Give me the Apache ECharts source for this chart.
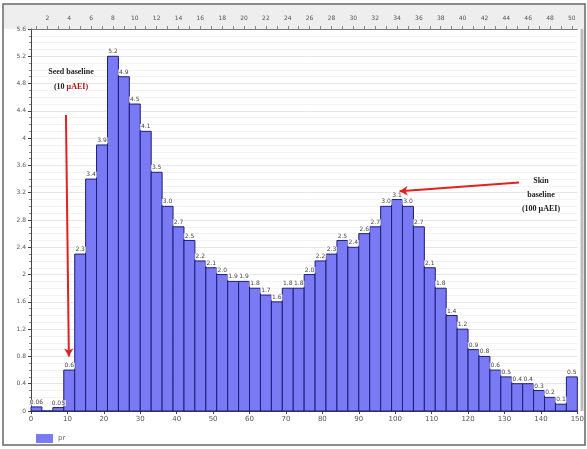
<!DOCTYPE html>
<html>
<head>
<meta charset="utf-8">
<script src="https://cdn.jsdelivr.net/npm/echarts@6/dist/echarts.min.js"></script>
<style>
  html, body { margin: 0; padding: 0; background: #fff; }
  #chart { width: 587px; height: 449px; }
</style>
</head>
<body>
<div id="chart"></div>
<script>
// Histogram bins: left edge of each bin (width 3) and its frequency
const binStarts = [0, 3, 6, 9, 12, 15, 18, 21, 24, 27, 30, 33, 36, 39, 42, 45, 48, 51, 54, 57,
  60, 63, 66, 69, 72, 75, 78, 81, 84, 87, 90, 93, 96, 99, 102, 105, 108, 111, 114, 117,
  120, 123, 126, 129, 132, 135, 138, 141, 144, 147];
const binWidth = 3;
const frequencies = [0.06, 0, 0.05, 0.6, 2.3, 3.4, 3.9, 5.2, 4.9, 4.5,
  4.1, 3.5, 3.0, 2.7, 2.5, 2.2, 2.1, 2.0, 1.9, 1.9,
  1.8, 1.7, 1.6, 1.8, 1.8, 2.0, 2.2, 2.3, 2.5, 2.4,
  2.6, 2.7, 3.0, 3.1, 3.0, 2.7, 2.1, 1.8, 1.4, 1.2,
  0.9, 0.8, 0.6, 0.5, 0.4, 0.4, 0.3, 0.2, 0.1, 0.5];
const binNumbers = ['1', '2', '3', '4', '5', '6', '7', '8', '9', '10', '11', '12', '13', '14', '15',
  '16', '17', '18', '19', '20', '21', '22', '23', '24', '25', '26', '27', '28', '29', '30',
  '31', '32', '33', '34', '35', '36', '37', '38', '39', '40', '41', '42', '43', '44', '45',
  '46', '47', '48', '49', '50'];
const seriesName = 'pr';

// Baseline call-outs (data coordinates of arrow tail and head)
const seedArrow = { from: [9.6, 4.34], to: [10.4, 0.8] };
const skinArrow = { from: [134, 3.35], to: [101.2, 3.22] };

const barData = binStarts.map((s, i) => [s, s + binWidth, frequencies[i]]);

// one decimal for bar labels, more only when the value needs it
function fmtValue(v) {
  const s = String(v);
  return s.indexOf('.') >= 0 ? s : v.toFixed(1);
}

const chart = echarts.init(document.getElementById('chart'));
const axisGrey = '#555';
const noteFont = 'bold 8px "Liberation Serif"';

chart.setOption({
  animation: false,
  backgroundColor: '#fff',
  textStyle: { fontFamily: 'DejaVu Sans' },
  grid: { left: 31, right: 7, top: 29, bottom: 38, show: true, backgroundColor: '#fff', borderWidth: 0 },
  graphic: [
    // frame round the whole chart
    { type: 'rect', silent: true, z: -1, shape: { x: 3, y: 4, width: 582, height: 441 },
      style: { fill: 'none', stroke: '#666', lineWidth: 1.5 } },
    // shaded band behind the bin-number axis
    { type: 'rect', silent: true, z: -2, shape: { x: 4, y: 5, width: 580, height: 24 },
      style: { fill: '#eeeeee' } },
    { type: 'line', silent: true, shape: { x1: 582, y1: 29, x2: 582, y2: 411 },
      style: { stroke: '#bbb', lineWidth: 3 } },
    // call-out texts
    { type: 'text', silent: true, x: 71, y: 72, z: 10,
      style: { text: 'Seed baseline', font: noteFont, fill: '#222', align: 'center', verticalAlign: 'middle',
        backgroundColor: '#fff' } },
    { type: 'text', silent: true, x: 71, y: 87, z: 10,
      style: { text: '(10 {r|µAEI)}', font: noteFont, fill: '#222', align: 'center', verticalAlign: 'middle',
        backgroundColor: '#fff',
        rich: { r: { fill: '#b01010', font: noteFont } } } },
    { type: 'text', silent: true, x: 541, y: 181, z: 10,
      style: { text: 'Skin', font: noteFont, fill: '#222', align: 'center', verticalAlign: 'middle',
        backgroundColor: '#fff' } },
    { type: 'text', silent: true, x: 541, y: 195, z: 10,
      style: { text: 'baseline', font: noteFont, fill: '#222', align: 'center', verticalAlign: 'middle',
        backgroundColor: '#fff' } },
    { type: 'text', silent: true, x: 541, y: 209, z: 10,
      style: { text: '(100 µAEI)', font: noteFont, fill: '#222', align: 'center', verticalAlign: 'middle',
        backgroundColor: '#fff' } }
  ],
  legend: {
    left: 31, top: 429, itemWidth: 17, itemHeight: 9, itemGap: 4,
    textStyle: { fontSize: 7, color: '#666' },
    data: [{ name: seriesName, icon: 'rect' }]
  },
  xAxis: [
    {
      type: 'value', min: 0, max: 150, interval: 10, position: 'bottom',
      axisLine: { show: true, lineStyle: { color: '#444', width: 1 } },
      axisTick: { show: true, length: 3, lineStyle: { color: '#444' } },
      axisLabel: { fontSize: 7, color: axisGrey, margin: 5 },
      splitLine: { show: false }
    },
    {
      type: 'category', position: 'top', data: binNumbers, boundaryGap: true,
      axisLine: { show: true, lineStyle: { color: '#777' } },
      axisTick: { show: true, alignWithLabel: true, length: 3, interval: 0, lineStyle: { color: '#888' } },
      axisLabel: { fontSize: 6, color: axisGrey, margin: 8, interval: (idx) => idx % 2 === 1 },
      splitLine: { show: false }
    }
  ],
  yAxis: {
    type: 'value', min: 0, max: 5.6, interval: 0.4,
    axisLine: { show: true, lineStyle: { color: '#444', width: 1 } },
    axisTick: { show: true, length: 3, lineStyle: { color: '#444' } },
    minorTick: { show: true, splitNumber: 4, length: 2, lineStyle: { color: '#888' } },
    axisLabel: { fontSize: 6, color: axisGrey, margin: 5 },
    splitLine: { show: true, lineStyle: { color: '#e6e6e6' } },
    minorSplitLine: { show: true, lineStyle: { color: '#f3f3f3' } }
  },
  series: [{
    name: seriesName,
    type: 'custom',
    xAxisIndex: 0,
    yAxisIndex: 0,
    data: barData,
    encode: { x: [0, 1], y: 2 },
    itemStyle: { color: '#7a7af4' },
    renderItem: function (params, api) {
      const x0 = api.value(0), x1 = api.value(1), v = api.value(2);
      const tl = api.coord([x0, v]);
      const br = api.coord([x1, 0]);
      return {
        type: 'rect',
        shape: { x: tl[0], y: tl[1], width: br[0] - tl[0], height: br[1] - tl[1] },
        style: { fill: '#7a7af4', stroke: '#1c1c7a', lineWidth: 1 },
        textContent: v > 0 ? {
          style: { text: fmtValue(v), fontSize: 6, fill: '#444', fontFamily: 'DejaVu Sans',
            backgroundColor: 'rgba(255,255,255,0.7)', padding: [0, 1] }
        } : undefined,
        textConfig: { position: 'top', distance: 1 }
      };
    },
    markLine: {
      silent: true,
      symbol: ['none', 'arrow'],
      symbolSize: [7, 8],
      label: { show: false },
      lineStyle: { color: '#e02222', width: 2, type: 'solid' },
      data: [
        [{ coord: seedArrow.from }, { coord: seedArrow.to }],
        [{ coord: skinArrow.from }, { coord: skinArrow.to }]
      ]
    }
  }]
});
</script>
</body>
</html>
